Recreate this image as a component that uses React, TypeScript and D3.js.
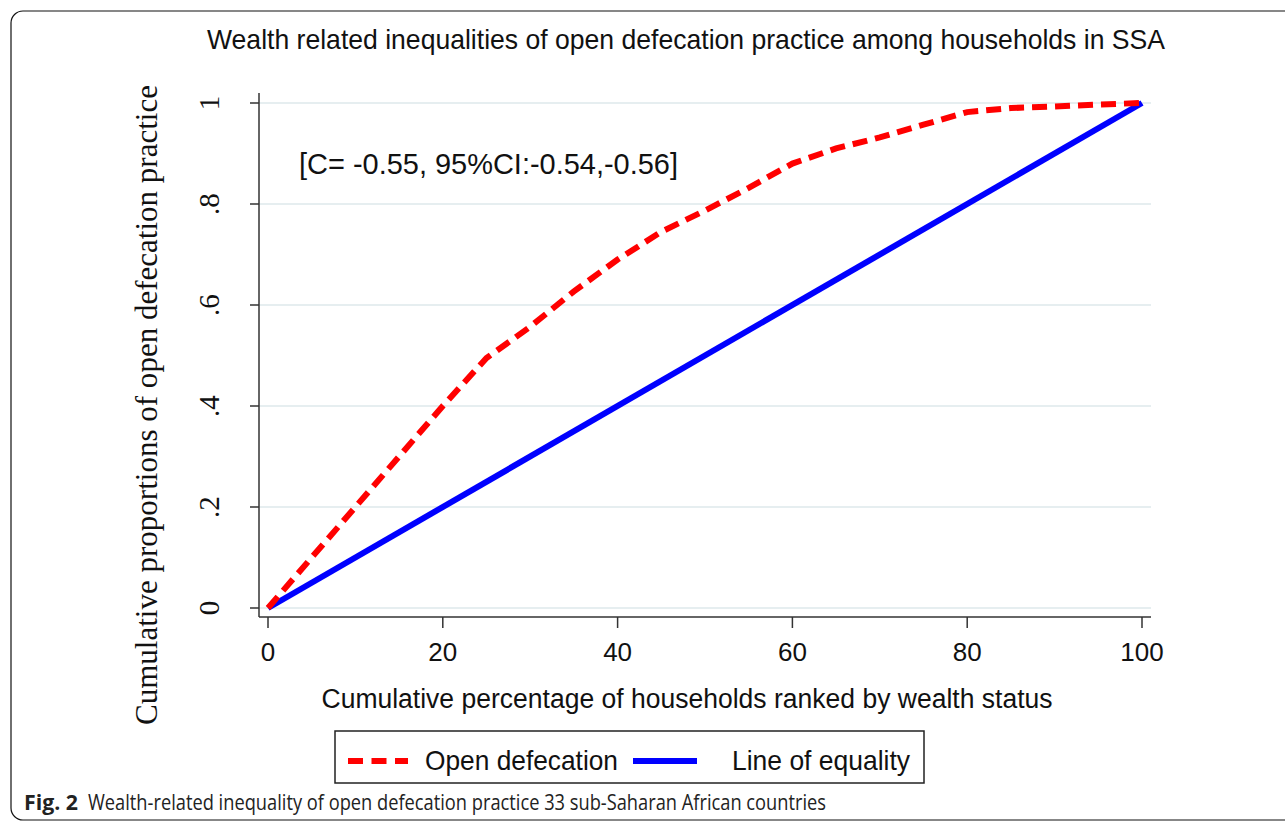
import React from "react";
import * as d3 from "d3";

// cumulative % of households ranked by wealth
const wealthRank = [0, 20, 25, 30, 35, 40, 45, 50, 55, 60, 65, 70, 75, 80, 85, 90, 95, 100];
// cumulative proportion of open defecation (concentration curve)
const openDefecation = [0, 0.4, 0.495, 0.557, 0.627, 0.69, 0.745, 0.787, 0.832, 0.88, 0.91, 0.932, 0.957, 0.982, 0.99, 0.993, 0.997, 1.0];
const equalityX = [0, 100];
const equalityY = [0, 1];

const xTicks = [0, 20, 40, 60, 80, 100];
const yTicks = [0, 0.2, 0.4, 0.6, 0.8, 1];
const yTickLabels = ["0", ".2", ".4", ".6", ".8", "1"];

const sans = "Liberation Sans, Arial, sans-serif";
const serif = "Liberation Serif, Times New Roman, serif";

const App = () => {
    const width = 1285;
    const height = 822;

    const x = d3.scaleLinear().domain([0, 100]).range([268, 1142]);
    const y = d3.scaleLinear().domain([0, 1]).range([608, 103]);

    const line = d3.line<[number, number]>()
        .x(d => x(d[0]))
        .y(d => y(d[1]));

    const curve = line(wealthRank.map((v, i) => [v, openDefecation[i]] as [number, number]));
    const equality = line(equalityX.map((v, i) => [v, equalityY[i]] as [number, number]));

    const axisLeft = 259;
    const axisBottom = 617;
    const plotRight = 1151;

    return (
        <svg width={width} height={height} style={{ position: "absolute", left: 0, top: 0, background: "#fff" }}>
            <rect x={11} y={11} width={1300} height={809} rx={12} fill="none" stroke="#111" strokeWidth={1.2} />

            <text x={686} y={49} textAnchor="middle" fontFamily={sans} fontSize={28}
                textLength={958} lengthAdjust="spacingAndGlyphs" fill="#111">
                Wealth related inequalities of open defecation practice among households in SSA
            </text>

            {yTicks.map(t => (
                <line key={"g" + t} x1={axisLeft} x2={plotRight} y1={y(t)} y2={y(t)} stroke="#e6eef0" strokeWidth={2} />
            ))}

            <path d={equality ?? ""} fill="none" stroke="#0000ff" strokeWidth={6} />
            <path d={curve ?? ""} fill="none" stroke="#ff0000" strokeWidth={6} strokeDasharray="15,8" />

            <line x1={axisLeft} x2={axisLeft} y1={93} y2={axisBottom} stroke="#333" strokeWidth={1.5} />
            <line x1={axisLeft} x2={plotRight} y1={axisBottom} y2={axisBottom} stroke="#333" strokeWidth={1.5} />

            {yTicks.map((t, i) => (
                <g key={"y" + t}>
                    <line x1={250} x2={axisLeft} y1={y(t)} y2={y(t)} stroke="#333" strokeWidth={1.5} />
                    <text transform={`translate(219,${y(t)}) rotate(-90)`} textAnchor="middle"
                        fontFamily={serif} fontSize={29} fill="#111">{yTickLabels[i]}</text>
                </g>
            ))}

            {xTicks.map(t => (
                <g key={"x" + t}>
                    <line x1={x(t)} x2={x(t)} y1={axisBottom} y2={628} stroke="#333" strokeWidth={1.5} />
                    <text x={x(t)} y={661} textAnchor="middle" fontFamily={sans} fontSize={26} fill="#111">{t}</text>
                </g>
            ))}

            <text transform="translate(157,405) rotate(-90)" textAnchor="middle" fontFamily={serif} fontSize={31}
                textLength={640} lengthAdjust="spacingAndGlyphs" fill="#111">
                Cumulative proportions of open defecation practice
            </text>

            <text x={687} y={708} textAnchor="middle" fontFamily={sans} fontSize={27}
                textLength={731} lengthAdjust="spacingAndGlyphs" fill="#111">
                Cumulative percentage of households ranked by wealth status
            </text>

            <text x={299} y={174} fontFamily={sans} fontSize={30}
                textLength={379} lengthAdjust="spacingAndGlyphs" fill="#111">
                [C= -0.55, 95%CI:-0.54,-0.56]
            </text>

            <rect x={335} y={731} width={589} height={52} fill="#fff" stroke="#222" strokeWidth={1.5} />
            <line x1={348} x2={408} y1={761} y2={761} stroke="#ff0000" strokeWidth={6} strokeDasharray="15,8.5" />
            <text x={425} y={770} fontFamily={sans} fontSize={28} textLength={193} lengthAdjust="spacingAndGlyphs" fill="#111">
                Open defecation
            </text>
            <line x1={633} x2={697} y1={761} y2={761} stroke="#0000ff" strokeWidth={6} />
            <text x={732} y={770} fontFamily={sans} fontSize={28} textLength={178} lengthAdjust="spacingAndGlyphs" fill="#111">
                Line of equality
            </text>

            <text x={24} y={810} fontFamily="Open Sans, sans-serif" fontSize={21} fill="#222">
                <tspan fontWeight="bold" textLength={54} lengthAdjust="spacingAndGlyphs">Fig. 2</tspan>
                <tspan x={88} textLength={738} lengthAdjust="spacingAndGlyphs">Wealth-related inequality of open defecation practice 33 sub-Saharan African countries</tspan>
            </text>
        </svg>
    );
};

export default App;
